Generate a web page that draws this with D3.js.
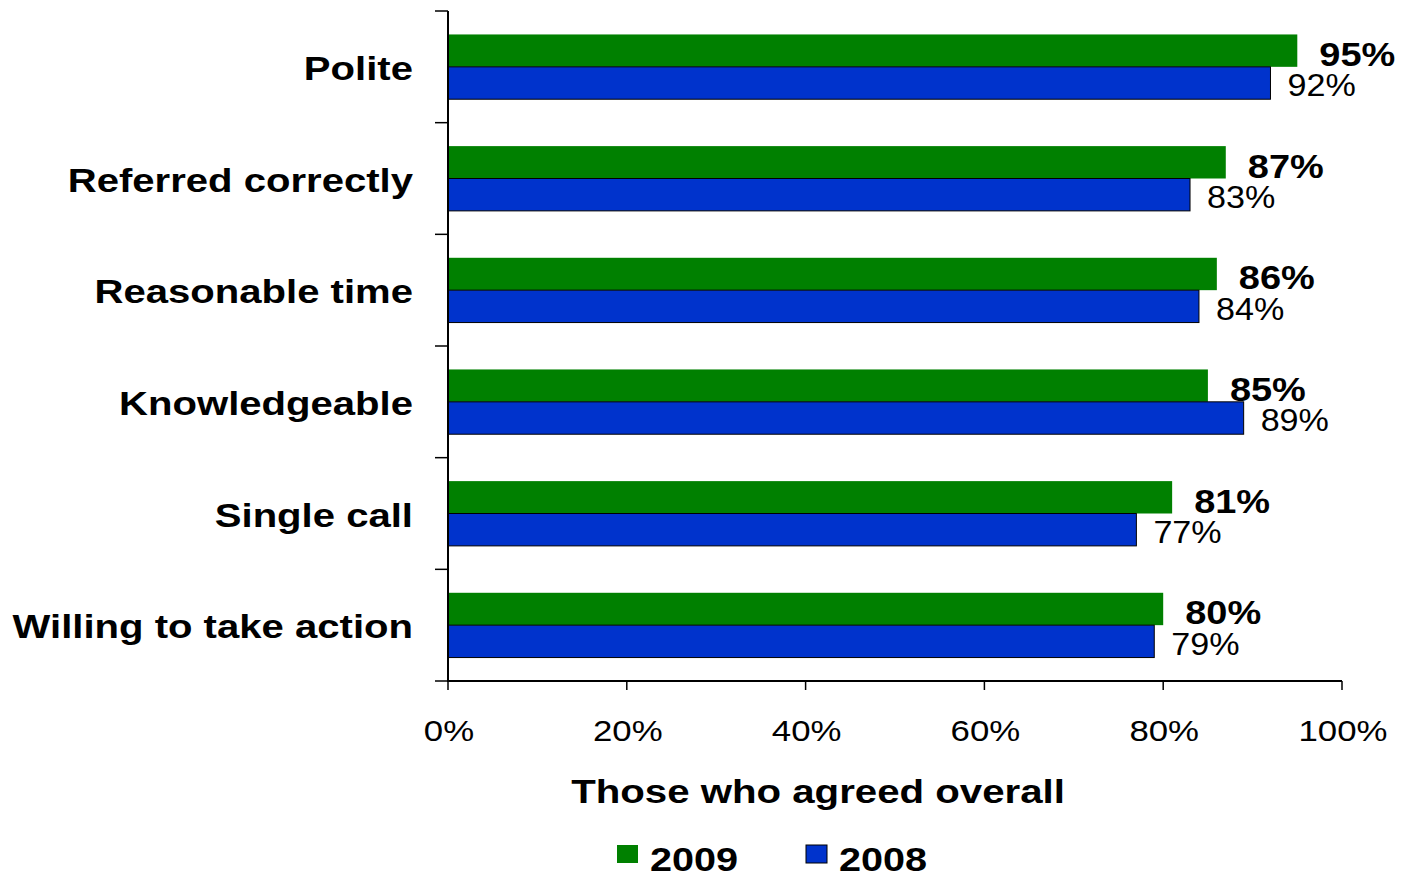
<!DOCTYPE html>
<html><head><meta charset="utf-8">
<script src="https://cdn.jsdelivr.net/npm/d3@7"></script>
<style>html,body{margin:0;padding:0;background:#fff;}svg{display:block;font-family:"Liberation Sans",Arial,sans-serif;}</style>
</head><body>
<svg id="c" width="1402" height="875"></svg>
<script>
const categories = ["Polite","Referred correctly","Reasonable time","Knowledgeable","Single call","Willing to take action"];
const values2009 = [95,87,86,85,81,80];
const values2008 = [92,83,84,89,77,79];
const seriesNames = ["2009","2008"];
const xTicks = [0,20,40,60,80,100];
const axisTitle = "Those who agreed overall";

const colors = {"2009":"#008000","2008":"#0033CC"};
const SX = 1.2;
const svg = d3.select("#c");
const mLeft = 448, mRight = 1342, mTop = 11, mBottom = 681;
const x = d3.scaleLinear().domain([0,100]).range([mLeft,mRight]);
const y = d3.scaleBand().domain(categories).range([mTop,mBottom]).paddingInner(0.42).paddingOuter(0.21);
const sub = d3.scaleBand().domain(seriesNames).range([0,y.bandwidth()]);

function stext(g, tx, ty, str, opts){
  const gg = g.append("g").attr("transform",`translate(${tx},${ty}) scale(${opts.sx||SX},1)`);
  return gg.append("text").attr("x",0).attr("y",0)
    .attr("text-anchor",opts.anchor||"start")
    .attr("font-size",opts.size).attr("font-weight",opts.weight||"normal")
    .attr("fill","#000").text(str);
}

const rows = categories.map((c,i)=>({c, v:{"2009":values2009[i],"2008":values2008[i]}}));

// bars
const gb = svg.append("g");
rows.forEach(r=>{
  seriesNames.forEach(s=>{
    gb.append("rect")
      .attr("x",x(0)).attr("y",y(r.c)+sub(s))
      .attr("width",x(r.v[s])-x(0)).attr("height",sub.bandwidth())
      .attr("fill",colors[s])
      .attr("stroke", s==="2008" ? "#000" : "none")
      .attr("stroke-width",1);
  });
});

// axes
const ga = svg.append("g");
ga.append("line").attr("x1",mLeft).attr("x2",mLeft).attr("y1",mTop).attr("y2",mBottom).attr("stroke","#000").attr("stroke-width",2);
ga.append("line").attr("x1",mLeft-1).attr("x2",mRight).attr("y1",mBottom).attr("y2",mBottom).attr("stroke","#000").attr("stroke-width",2);
const step = (mBottom-mTop)/categories.length;
d3.range(categories.length+1).forEach(i=>{
  const yy = mTop + i*step;
  ga.append("line").attr("x1",mLeft-13).attr("x2",mLeft).attr("y1",yy).attr("y2",yy).attr("stroke","#000").attr("stroke-width",1.5);
});
xTicks.forEach(t=>{
  ga.append("line").attr("x1",x(t)).attr("x2",x(t)).attr("y1",mBottom).attr("y2",mBottom+9).attr("stroke","#000").attr("stroke-width",1.5);
  stext(ga, x(t)+1, 741, t+"%", {anchor:"middle", size:29});
});

// category labels
rows.forEach(r=>{
  stext(svg, 413, y(r.c)+y.bandwidth()/2+13, r.c, {anchor:"end", size:33, weight:"bold", sx:1.215});
});

// value labels
rows.forEach(r=>{
  stext(svg, x(r.v["2009"])+22, y(r.c)+sub("2009")+sub.bandwidth()-1, r.v["2009"]+"%", {size:33, weight:"bold", sx:1.15});
  stext(svg, x(r.v["2008"])+17, y(r.c)+sub("2008")+sub.bandwidth()-3, r.v["2008"]+"%", {size:31, sx:1.1});
});

// axis title
stext(svg, (mLeft+mRight)/2 - 77, 803, axisTitle, {anchor:"middle", size:33.5, weight:"bold"});

// legend
const legX = [617, 806];
seriesNames.forEach((s,i)=>{
  svg.append("rect").attr("x",legX[i]).attr("y",845).attr("width",21).attr("height",18)
    .attr("fill",colors[s]).attr("stroke", s==="2008"?"#000":"none").attr("stroke-width",1);
  stext(svg, legX[i]+33, 871, s, {size:33, weight:"bold"});
});
</script>
</body></html>
